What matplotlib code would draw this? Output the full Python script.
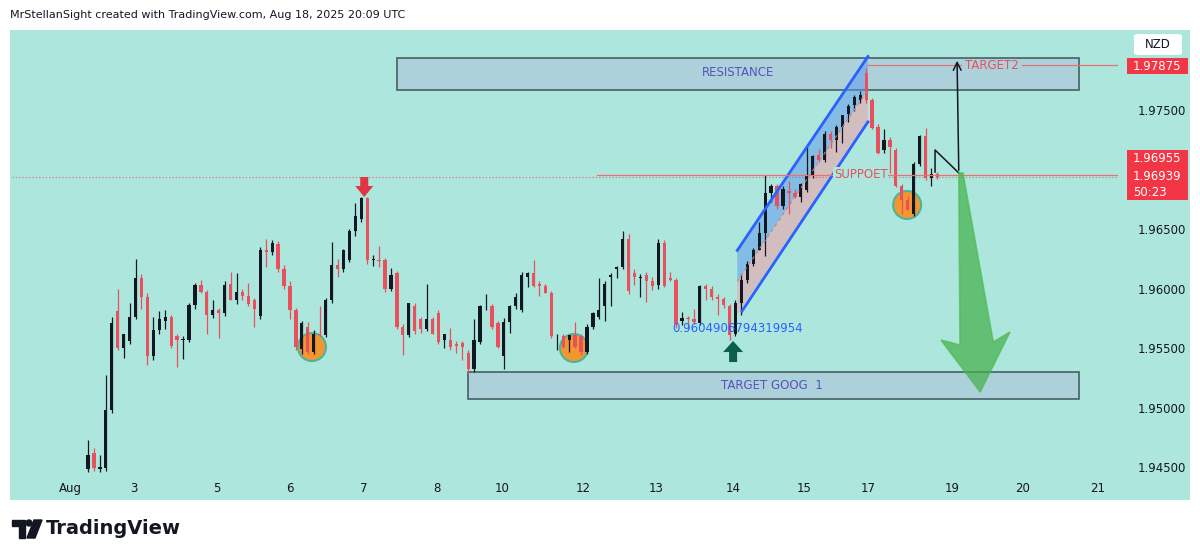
import matplotlib
matplotlib.use("Agg")
import matplotlib.pyplot as plt
from matplotlib.patches import Rectangle, Ellipse, Polygon, FancyBboxPatch

W, H = 1200, 560

# NZD hourly-ish candles (bar index = position)
opens = [
    1.9448, 1.9462, 1.9448, 1.9449, 1.9498, 1.9581, 1.9550, 1.9556, 1.9576, 1.9609,
    1.9593, 1.9543, 1.9565, 1.9573, 1.9576, 1.9560, 1.9557, 1.9557, 1.9586, 1.9603,
    1.9597, 1.9578, 1.9582, 1.9579, 1.9604, 1.9590, 1.9597, 1.9594, 1.9590, 1.9577,
    1.9632, 1.9631, 1.9637, 1.9616, 1.9602, 1.9582, 1.9549, 1.9568, 1.9547, 1.9562,
    1.9561, 1.9590, 1.9620, 1.9616, 1.9624, 1.9648, 1.9658, 1.9676, 1.9624, 1.9624,
    1.9624, 1.9600, 1.9613, 1.9568, 1.9561, 1.9585, 1.9574, 1.9566, 1.9574, 1.9579,
    1.9557, 1.9557, 1.9553, 1.9554, 1.9546, 1.9532, 1.9555, 1.9585, 1.9585, 1.9571,
    1.9543, 1.9572, 1.9585, 1.9582, 1.9610, 1.9613, 1.9604, 1.9602, 1.9596, 1.9560,
    1.9560, 1.9557, 1.9561, 1.9560, 1.9547, 1.9568, 1.9576, 1.9585, 1.9610, 1.9616,
    1.9618, 1.9642, 1.9613, 1.9609, 1.9611, 1.9606, 1.9603, 1.9638, 1.9609, 1.9607,
    1.9573, 1.9575, 1.9574, 1.9571, 1.9602, 1.9600, 1.9593, 1.9591, 1.9585, 1.9562,
    1.9588, 1.9607, 1.9621, 1.9632, 1.9647, 1.9680, 1.9686, 1.9669, 1.9682, 1.9680,
    1.9677, 1.9683, 1.9695, 1.9712, 1.9708, 1.9730, 1.9725, 1.9736, 1.9747, 1.9754,
    1.9758, 1.9781, 1.9758, 1.9736, 1.9716, 1.9725, 1.9716, 1.9686, 1.9674, 1.9663,
    1.9705, 1.9728, 1.9693, 1.9696,
]
highs = [
    1.9473, 1.9466, 1.9460, 1.9527, 1.9576, 1.9600, 1.9562, 1.9588, 1.9625, 1.9612,
    1.9596, 1.9576, 1.9581, 1.9582, 1.9578, 1.9562, 1.9560, 1.9588, 1.9605, 1.9607,
    1.9599, 1.9590, 1.9584, 1.9606, 1.9614, 1.9613, 1.9600, 1.9605, 1.9592, 1.9635,
    1.9642, 1.9641, 1.9640, 1.9620, 1.9606, 1.9584, 1.9573, 1.9572, 1.9565, 1.9585,
    1.9592, 1.9639, 1.9625, 1.9633, 1.9650, 1.9672, 1.9677, 1.9677, 1.9628, 1.9636,
    1.9626, 1.9617, 1.9615, 1.9570, 1.9588, 1.9588, 1.9576, 1.9604, 1.9576, 1.9582,
    1.9562, 1.9567, 1.9556, 1.9556, 1.9548, 1.9574, 1.9586, 1.9595, 1.9587, 1.9573,
    1.9575, 1.9586, 1.9596, 1.9614, 1.9614, 1.9624, 1.9606, 1.9604, 1.9598, 1.9562,
    1.9562, 1.9561, 1.9572, 1.9562, 1.9570, 1.9580, 1.9609, 1.9606, 1.9613, 1.9619,
    1.9648, 1.9646, 1.9616, 1.9612, 1.9614, 1.9610, 1.9642, 1.9641, 1.9614, 1.9609,
    1.9580, 1.9577, 1.9583, 1.9603, 1.9604, 1.9602, 1.9595, 1.9593, 1.9587, 1.9590,
    1.9612, 1.9623, 1.9634, 1.9656, 1.9695, 1.9688, 1.9688, 1.9686, 1.9690, 1.9684,
    1.9689, 1.9719, 1.9712, 1.9717, 1.9732, 1.9732, 1.9737, 1.9746, 1.9755, 1.9763,
    1.9766, 1.9785, 1.9760, 1.9738, 1.9734, 1.9727, 1.9718, 1.9688, 1.9678, 1.9706,
    1.9729, 1.9735, 1.9701, 1.9698,
]
lows = [
    1.9446, 1.9447, 1.9446, 1.9447, 1.9495, 1.9548, 1.9542, 1.9553, 1.9574, 1.9583,
    1.9536, 1.9540, 1.9562, 1.9566, 1.9550, 1.9534, 1.9541, 1.9555, 1.9583, 1.9596,
    1.9562, 1.9575, 1.9558, 1.9577, 1.9590, 1.9587, 1.9590, 1.9585, 1.9568, 1.9574,
    1.9618, 1.9628, 1.9614, 1.9600, 1.9574, 1.9548, 1.9545, 1.9545, 1.9545, 1.9560,
    1.9559, 1.9588, 1.9610, 1.9614, 1.9622, 1.9644, 1.9656, 1.9621, 1.9619, 1.9618,
    1.9597, 1.9598, 1.9566, 1.9544, 1.9559, 1.9562, 1.9563, 1.9564, 1.9562, 1.9553,
    1.9550, 1.9548, 1.9546, 1.9540, 1.9529, 1.9530, 1.9553, 1.9582, 1.9566, 1.9550,
    1.9532, 1.9563, 1.9583, 1.9580, 1.9601, 1.9601, 1.9594, 1.9596, 1.9558, 1.9548,
    1.9550, 1.9547, 1.9550, 1.9544, 1.9545, 1.9566, 1.9574, 1.9573, 1.9585, 1.9609,
    1.9616, 1.9595, 1.9603, 1.9593, 1.9589, 1.9599, 1.9600, 1.9601, 1.9606, 1.9567,
    1.9569, 1.9566, 1.9570, 1.9569, 1.9590, 1.9590, 1.9578, 1.9584, 1.9557, 1.9560,
    1.9578, 1.9605, 1.9619, 1.9632, 1.9627, 1.9673, 1.9667, 1.9667, 1.9663, 1.9676,
    1.9673, 1.9681, 1.9693, 1.9706, 1.9706, 1.9718, 1.9715, 1.9722, 1.9740, 1.9749,
    1.9756, 1.9756, 1.9734, 1.9713, 1.9714, 1.9697, 1.9685, 1.9663, 1.9666, 1.9661,
    1.9703, 1.9691, 1.9686, 1.9692,
]
closes = [
    1.9460, 1.9449, 1.9450, 1.9498, 1.9571, 1.9550, 1.9562, 1.9576, 1.9609, 1.9593,
    1.9543, 1.9565, 1.9574, 1.9576, 1.9552, 1.9557, 1.9557, 1.9586, 1.9603, 1.9597,
    1.9578, 1.9582, 1.9579, 1.9603, 1.9590, 1.9597, 1.9594, 1.9587, 1.9583, 1.9632,
    1.9631, 1.9638, 1.9616, 1.9602, 1.9582, 1.9551, 1.9571, 1.9547, 1.9562, 1.9561,
    1.9590, 1.9620, 1.9616, 1.9632, 1.9648, 1.9661, 1.9676, 1.9624, 1.9624, 1.9623,
    1.9600, 1.9611, 1.9568, 1.9561, 1.9588, 1.9564, 1.9566, 1.9574, 1.9562, 1.9555,
    1.9562, 1.9551, 1.9552, 1.9551, 1.9532, 1.9557, 1.9585, 1.9585, 1.9568, 1.9551,
    1.9572, 1.9585, 1.9593, 1.9611, 1.9613, 1.9602, 1.9602, 1.9596, 1.9560, 1.9560,
    1.9551, 1.9561, 1.9551, 1.9547, 1.9568, 1.9579, 1.9582, 1.9604, 1.9611, 1.9618,
    1.9642, 1.9598, 1.9610, 1.9609, 1.9606, 1.9602, 1.9638, 1.9602, 1.9607, 1.9570,
    1.9575, 1.9574, 1.9572, 1.9602, 1.9600, 1.9593, 1.9591, 1.9586, 1.9561, 1.9588,
    1.9607, 1.9621, 1.9632, 1.9647, 1.9680, 1.9686, 1.9669, 1.9684, 1.9680, 1.9677,
    1.9688, 1.9695, 1.9711, 1.9708, 1.9730, 1.9725, 1.9736, 1.9746, 1.9753, 1.9761,
    1.9763, 1.9758, 1.9735, 1.9714, 1.9725, 1.9719, 1.9686, 1.9674, 1.9666, 1.9705,
    1.9728, 1.9693, 1.9696, 1.9694,
]

date_labels = ["Aug", "3", "5", "6", "7", "8", "10", "12", "13", "14", "15", "17", "19", "20", "21"]
date_bars = [-3.0, 7.7, 21.7, 34.0, 46.5, 58.8, 69.7, 83.3, 95.6, 108.6, 120.5, 131.3, 145.5, 157.4, 169.9]
price_ticks = [1.945, 1.950, 1.955, 1.960, 1.965, 1.975]

resistance = (52.0, 166.8, 1.97668, 1.97937)
target_goog = (64.0, 166.8, 1.95072, 1.95299)
target2_price = 1.97875
support_price = 1.96955
last_price = 1.96939

TEAL = "#ade6dc"
UP = "#131722"
DOWN = "#e8505e"
RED = "#f23645"


def fx(px):
    return px / W


def fy(py):
    return 1 - py / H


fig = plt.figure(figsize=(12, 5.6), dpi=100)
fig.patch.set_facecolor("white")
fig.add_artist(Rectangle((fx(10), fy(500)), fx(1180), 470 / H, transform=fig.transFigure,
                         facecolor=TEAL, edgecolor="none", zorder=0))

ax = fig.add_axes([fx(12), fy(478), fx(1106), 448 / H])
ax.set_facecolor(TEAL)
ax.set_xlim(-12.8, 173.4)
ax.set_ylim(1.944076, 1.981723)
for s in ax.spines.values():
    s.set_visible(False)

# boxes
for x0, x1, y0, y1 in (resistance, target_goog):
    ax.add_patch(Rectangle((x0, y0), x1 - x0, y1 - y0, facecolor="#aed0da", alpha=0.92,
                           edgecolor="#3f5558", lw=1.2, zorder=1))
ax.text((resistance[0] + resistance[1]) / 2, 1.97811, "RESISTANCE", color="#5a50c0",
        fontsize=8.5, ha="center", va="center", zorder=6)
ax.text(115.2, 1.95189, "TARGET GOOG  1", color="#5a50c0", fontsize=8.5,
        ha="center", va="center", zorder=6)

# channel
up_x, up_y = [109.3, 131.3], [1.9632, 1.9795]
mid_x, mid_y = [109.3, 131.3], [1.9606, 1.9767]
lo_x, lo_y = [109.3, 131.3], [1.95778, 1.9740]
ax.fill([up_x[0], up_x[1], mid_x[1], mid_x[0]], [up_y[0], up_y[1], mid_y[1], mid_y[0]],
        color="#5a96ee", alpha=0.5, lw=0, zorder=2)
ax.fill([mid_x[0], mid_x[1], lo_x[1], lo_x[0]], [mid_y[0], mid_y[1], lo_y[1], lo_y[0]],
        color="#f796a4", alpha=0.5, lw=0, zorder=2)
ax.plot(up_x, up_y, color="#2962ff", lw=2, zorder=4)
ax.plot([110.1, 131.3], [1.9581, lo_y[1]], color="#2962ff", lw=2, zorder=4)
ax.plot(mid_x, mid_y, color="#c7818c", lw=0.8, ls=(0, (3, 3)), zorder=4)

# orange circles (under the candles)
for cx, cy in [(37.7, 1.95508), (81.8, 1.95500), (137.9, 1.96702)]:
    ax.add_patch(Ellipse((cx, cy), 28 / 5.94, 28 / 11900, facecolor="#f29630",
                         edgecolor="#4fb39b", lw=1.5, zorder=2.5))

# candles
xs = list(range(len(closes)))
colors = [UP if c >= o else DOWN for o, c in zip(opens, closes)]
ax.vlines(xs, lows, highs, colors=colors, lw=0.9, zorder=3)
bottoms = [min(o, c) for o, c in zip(opens, closes)]
heights = [max(abs(c - o), 0.00005) for o, c in zip(opens, closes)]
ax.bar(xs, heights, bottom=bottoms, width=0.55, color=colors, lw=0, zorder=3)

# horizontal levels
ax.axhline(last_price, color=RED, lw=0.8, ls=(0, (1, 2)), alpha=0.7, zorder=2)
ax.plot([85.7, 173.4], [support_price, support_price], color="#e57373", lw=0.9, zorder=4)
ax.text(130.1, 1.96962, "SUPPOET", color="#e8505e", fontsize=8.5, ha="center", va="center",
        zorder=6, bbox=dict(facecolor=TEAL, edgecolor="none", pad=0.5))
ax.plot([131.3, 147.0], [target2_price, target2_price], color="#e57373", lw=0.9, zorder=4)
ax.plot([157.2, 173.4], [target2_price, target2_price], color="#e57373", lw=0.9, zorder=4)
ax.text(152.2, target2_price, "TARGET2", color="#e8505e", fontsize=8.5, ha="center",
        va="center", zorder=6)

# markers: red down arrow and green up arrow
bw, pw = 1 / 5.94, 1 / 11900
ax.add_patch(Polygon([(46.5 - 4 * bw, 1.96937), (46.5 + 4 * bw, 1.96937), (46.5 + 4 * bw, 1.96937 - 9 * pw),
                      (46.5 + 9 * bw, 1.96937 - 9 * pw), (46.5, 1.96769), (46.5 - 9 * bw, 1.96937 - 9 * pw),
                      (46.5 - 4 * bw, 1.96937 - 9 * pw)], closed=True, color="#e03545", lw=0, zorder=6))
ax.add_patch(Polygon([(108.6 - 4 * bw, 1.95382), (108.6 + 4 * bw, 1.95382), (108.6 + 4 * bw, 1.95382 + 10 * pw),
                      (108.6 + 10 * bw, 1.95382 + 10 * pw), (108.6, 1.95559), (108.6 - 10 * bw, 1.95382 + 10 * pw),
                      (108.6 - 4 * bw, 1.95382 + 10 * pw)], closed=True, color="#0c5e4c", lw=0, zorder=6))

ax.text(109.3, 1.95668, "0.9604906794319954", color="#2962ff", fontsize=8.5, ha="center",
        va="center", zorder=6)

# black path with up arrow to TARGET2
ax.plot([142.6, 142.6, 146.6], [1.96979, 1.97164, 1.96971], color="#131722", lw=1.1, zorder=6)
ax.annotate("", xy=(146.3, 1.97937), xytext=(146.6, 1.96971),
            arrowprops=dict(arrowstyle="->", color="#131722", lw=1.1, mutation_scale=14), zorder=6)

# big green arrow down
ax.add_patch(Polygon([(146.6, 1.96971), (147.3, 1.96971), (152.4, 1.95550), (155.2, 1.95634),
                      (150.2, 1.95130), (143.6, 1.95567), (146.8, 1.95525)], closed=True,
                     facecolor="#43b04a", edgecolor="#4cbb54", lw=1.2, alpha=0.7, zorder=6))

# axes ticks
ax.set_xticks(date_bars)
ax.set_xticklabels(date_labels)
ax.tick_params(axis="x", length=0, pad=3, labelsize=8.5, labelcolor="#131722")
ax.yaxis.tick_right()
ax.set_yticks(price_ticks)
ax.set_yticklabels([f"{p:.5f}" for p in price_ticks])
ax.tick_params(axis="y", length=0, pad=14, labelsize=8.5, labelcolor="#131722")

# price scale labels
fig.add_artist(Rectangle((fx(1127), fy(74)), fx(61), 16 / H, transform=fig.transFigure,
                         facecolor=RED, edgecolor="none"))
fig.text(fx(1157), fy(66), "1.97875", color="white", fontsize=8.5, ha="center", va="center")
fig.add_artist(Rectangle((fx(1127), fy(200)), fx(61), 50 / H, transform=fig.transFigure,
                         facecolor=RED, edgecolor="none"))
fig.text(fx(1157), fy(159), "1.96955", color="white", fontsize=8.5, ha="center", va="center")
fig.text(fx(1157), fy(176), "1.96939", color="white", fontsize=8.5, ha="center", va="center")
fig.text(fx(1133), fy(192), "50:23", color="white", fontsize=8.5, ha="left", va="center")
fig.add_artist(FancyBboxPatch((fx(1134), fy(55)), fx(48), 21 / H, boxstyle="round,pad=0,rounding_size=0.004",
                              transform=fig.transFigure, facecolor="white", edgecolor="none"))
fig.text(fx(1158), fy(44), "NZD", color="#131722", fontsize=8.5, ha="center", va="center")

# header and logo
fig.text(fx(10), fy(15), "MrStellanSight created with TradingView.com, Aug 18, 2025 20:09 UTC",
         fontsize=8, color="#131722", ha="left", va="center")
for verts in ([(12, 520), (25, 520), (25, 538), (19, 538), (19, 526), (12, 526)],
              [(34, 520), (42, 520), (35, 538), (27, 538)]):
    fig.add_artist(Polygon([(fx(a), fy(b)) for a, b in verts], closed=True,
                           transform=fig.transFigure, color="#131722"))
fig.add_artist(Ellipse((fx(29), fy(523)), fx(6), 6 / H, transform=fig.transFigure, color="#131722"))
fig.text(fx(46), fy(529), "TradingView", fontsize=14, fontweight="semibold", color="#131722",
         ha="left", va="center")

fig.savefig("out.png", dpi=100)
